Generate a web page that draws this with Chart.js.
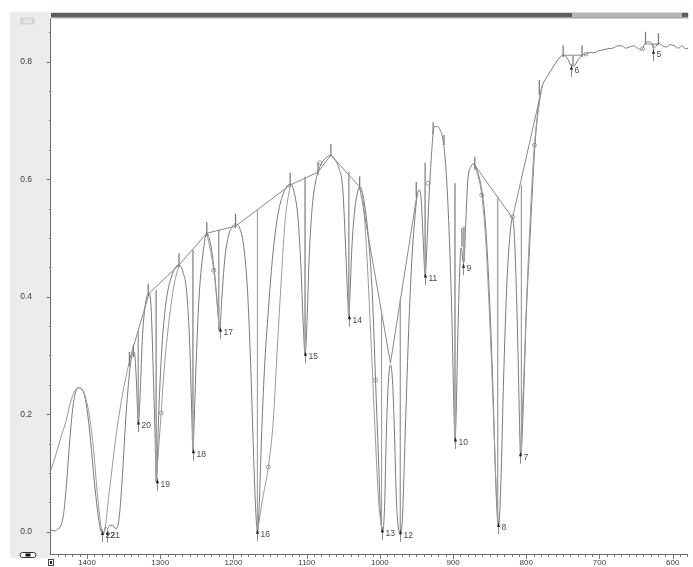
<!DOCTYPE html>
<html><head><meta charset="utf-8">
<script src="https://cdn.jsdelivr.net/npm/chart.js@4.4.0/dist/chart.umd.min.js"></script>
<style>html,body{margin:0;padding:0;background:#fff;}canvas{display:block;}</style>
</head><body>
<canvas id="c" width="693" height="567"></canvas>
<script>
// ---- spectrum (wavenumber cm-1 / absorbance) ----
const specWn = [
1449.2,1443.8,1439.8,1435.7,1431.6,1427.6,1423.5,1419.4,1415.4,1411.3,
1407.2,1403.2,1399.1,1395.0,1391.0,1386.9,1382.8,1380.1,1377.4,1374.7,
1372.0,1369.3,1365.2,1361.1,1358.4,1355.7,1351.6,1347.6,1343.5,1339.4,
1335.4,1332.6,1329.9,1327.2,1324.5,1320.4,1315.0,1312.3,1309.6,1306.9,
1305.5,1304.2,1302.8,1300.1,1296.0,1290.6,1285.2,1279.8,1274.3,1268.9,
1263.5,1259.4,1256.7,1255.4,1254.0,1251.3,1247.2,1241.8,1236.4,1231.0,
1225.5,1221.5,1218.8,1216.0,1212.0,1206.5,1201.1,1197.1,1191.6,1186.2,
1180.8,1176.7,1172.7,1169.9,1167.2,1164.5,1161.8,1157.7,1152.3,1146.9,
1141.5,1136.0,1129.3,1122.5,1117.1,1111.6,1107.6,1104.9,1102.1,1099.4,
1096.7,1092.7,1088.6,1084.5,1079.1,1073.7,1066.9,1061.5,1056.0,1050.6,
1046.6,1043.8,1042.5,1041.1,1038.4,1034.3,1030.3,1027.6,1024.9,1020.8,
1015.4,1009.9,1005.9,1001.8,999.1,996.4,993.7,991.0,988.2,985.5,
982.8,980.1,977.4,974.7,972.0,969.3,965.2,961.1,957.1,953.0,
948.9,946.2,943.5,940.8,938.1,935.4,932.7,929.9,925.9,921.8,
917.7,913.7,909.6,905.5,901.5,898.8,897.4,896.0,893.3,890.6,
889.3,887.9,886.6,885.2,882.5,879.8,875.7,871.6,867.6,862.1,
856.7,851.3,845.9,841.8,839.1,837.7,835.0,831.0,826.9,822.8,
818.8,816.0,812.0,809.3,807.9,806.6,803.8,799.8,795.7,791.6,
787.6,782.2,778.1,772.7,765.9,759.1,753.7,749.6,744.2,738.8,
734.7,729.3,723.8,718.4,713.0,707.6,702.2,695.4,688.6,681.8,
675.0,669.6,664.2,658.8,653.3,647.9,642.5,638.4,634.4,628.9,
626.2,623.5,619.4,614.0,608.6,603.2,597.7,592.3,586.9,582.8,
578.8];
const specAbs = [
0.003,0.001,0.005,0.010,0.034,0.088,0.156,0.211,0.238,0.245,
0.243,0.231,0.200,0.153,0.098,0.049,0.011,-0.001,-0.002,0.008,
0.005,0.010,0.011,0.005,0.008,0.028,0.096,0.182,0.250,0.296,
0.306,0.258,0.185,0.241,0.326,0.386,0.406,0.377,0.275,0.156,
0.085,0.105,0.173,0.258,0.343,0.403,0.432,0.449,0.454,0.442,
0.403,0.309,0.190,0.136,0.173,0.275,0.394,0.471,0.508,0.488,
0.437,0.377,0.343,0.394,0.462,0.505,0.520,0.524,0.517,0.488,
0.411,0.292,0.139,0.045,-0.001,0.054,0.156,0.275,0.377,0.462,
0.522,0.559,0.583,0.592,0.578,0.531,0.445,0.360,0.302,0.360,
0.462,0.548,0.590,0.612,0.628,0.636,0.641,0.633,0.619,0.582,
0.479,0.394,0.364,0.394,0.479,0.548,0.578,0.587,0.582,0.556,
0.497,0.394,0.258,0.122,0.028,0.001,0.037,0.173,0.258,0.284,
0.258,0.173,0.054,0.006,-0.002,0.020,0.173,0.326,0.445,0.522,
0.573,0.582,0.565,0.497,0.435,0.497,0.573,0.633,0.689,0.690,
0.684,0.667,0.616,0.514,0.360,0.207,0.156,0.190,0.343,0.454,
0.483,0.479,0.459,0.459,0.531,0.599,0.621,0.626,0.616,0.590,
0.539,0.428,0.258,0.088,0.017,0.011,0.071,0.258,0.411,0.497,
0.534,0.497,0.343,0.190,0.131,0.139,0.224,0.377,0.479,0.582,
0.667,0.735,0.759,0.772,0.786,0.799,0.808,0.811,0.806,0.794,
0.793,0.803,0.811,0.813,0.816,0.815,0.818,0.820,0.822,0.823,
0.827,0.827,0.823,0.825,0.827,0.823,0.820,0.830,0.834,0.832,
0.823,0.825,0.832,0.827,0.825,0.829,0.827,0.823,0.827,0.822,
0.823];

// ---- fitted band curves (null = break) ----
const fitWn = [
1449.2,1442.5,1435.7,1428.9,1423.5,1418.1,1412.6,1407.2,1401.8,1396.4,1391.0,1386.9,1382.8,1380.1,1377.4,1369.3,1361.1,1352.9,1346.2,1340.8,null,
1305.5,1302.8,1298.7,1294.7,1287.9,1281.1,1274.3,null,
1236.4,1231.0,1226.9,1222.8,1218.8,null,
1167.2,1160.4,1152.3,1145.5,1140.2,1134.7,1129.3,1122.5,null,
1027.6,1023.5,1018.1,1012.7,1007.2,1001.8,997.7,null,
871.6,866.2,860.8,855.4,849.9,844.5,840.4,837.7,null,
807.9,803.8,798.4,793.0,788.9,783.5,778.1];
const fitAbs = [
0.105,0.131,0.161,0.187,0.216,0.236,0.245,0.243,0.228,0.194,0.139,0.079,0.028,0.003,-0.002,0.071,0.156,0.224,0.267,0.296,null,
0.085,0.131,0.202,0.275,0.360,0.420,0.454,null,
0.508,0.476,0.445,0.398,0.343,null,
-0.001,0.054,0.110,0.190,0.309,0.428,0.531,0.590,null,
0.587,0.573,0.479,0.343,0.190,0.054,0.006,null,
0.626,0.607,0.573,0.497,0.360,0.190,0.054,0.011,null,
0.131,0.250,0.428,0.573,0.658,0.718,0.759];

// ---- baseline polyline ----
const baseWn  = [1342.1,1315.0,1274.3,1236.4,1197.1,1122.5,1084.5,1066.9,1027.6,985.5,948.9,null,871.6,818.8,782.2,null,749.6,723.8,null,637.1,619.4];
const baseAbs = [0.292,0.406,0.454,0.508,0.520,0.590,0.612,0.641,0.587,0.287,0.577,null,0.626,0.534,0.735,null,0.811,0.811,null,0.830,0.830];

// ---- peak drop lines ----
const dropWn  = [1329.9,1305.5,1255.4,1220.1,1167.2,1102.1,1042.5,997.7,972.0,938.1,897.4,885.2,839.1,806.6,736.1,626.2];
const dropTop = [0.343,0.411,0.479,0.514,0.548,0.604,0.612,0.374,0.394,0.628,0.593,0.519,0.571,0.590,0.811,0.830];
const dropBot = [0.185,0.085,0.136,0.343,-0.001,0.302,0.364,0.001,-0.002,0.435,0.156,0.459,0.017,0.131,0.792,0.823];

// ---- baseline anchor ticks ----
const anchWn  = [1342.1,1336.7,1316.4,1274.3,1236.4,1197.1,1122.5,1084.5,1066.9,1027.6,950.3,927.2,912.3,887.9,870.3,782.2,749.6,723.8,637.1,619.4];
const anchTop = [0.306,0.318,0.422,0.474,0.527,0.541,0.611,0.629,0.660,0.605,0.595,0.697,0.675,0.517,0.638,0.769,0.828,0.828,0.851,0.849];
const anchBot = [0.282,0.297,0.401,0.450,0.503,0.517,0.587,0.607,0.639,0.583,0.570,0.677,0.658,0.485,0.616,0.743,0.808,0.808,0.830,0.828];

// ---- small open markers ----
const markWn  = [1298.7,1226.9,1152.3,1081.8,1005.9,934.0,860.8,818.8,788.9,718.4,641.1];
const markAbs = [0.202,0.445,0.110,0.628,0.258,0.593,0.573,0.536,0.658,0.813,0.822];

// ---- labelled peaks ----
const peakNum = ['5','6','7','8','9','10','11','12','13','14','15','16','17','18','19','20','21','22'];
const peakWn  = [626.2,738.8,807.9,839.1,886.6,897.4,938.1,972.0,996.4,1042.5,1102.1,1167.2,1218.8,1255.4,1304.2,1329.9,1373.3,1380.1];
const peakAbs = [0.816,0.789,0.131,0.011,0.452,0.156,0.435,-0.002,0.001,0.364,0.302,-0.001,0.343,0.136,0.085,0.185,-0.003,-0.003];

// ---- axes ----
const xTicks = [1400,1300,1200,1100,1000,900,800,700,600];
const yTicks = [0.0,0.2,0.4,0.6,0.8];
const xRange = [578.8,1449.2];
const yRange = [-0.038,0.8735];

function pts(wn, ab){
  const out=[]; let last=wn.find(v=>v!==null);
  for(let i=0;i<wn.length;i++){
    if(wn[i]===null){ out.push({x:last,y:null}); }
    else { last=wn[i]; out.push({x:wn[i],y:ab[i]}); }
  }
  return out;
}
function segs(wn, top, bot){
  const out=[];
  for(let i=0;i<wn.length;i++){
    out.push({x:wn[i],y:top[i]},{x:wn[i],y:bot[i]},{x:wn[i],y:null});
  }
  return out;
}

const FONT = '"Liberation Sans", Arial, sans-serif';

function rr(ctx,x,y,w,h,r){
  ctx.beginPath();
  ctx.moveTo(x+r,y);ctx.lineTo(x+w-r,y);ctx.quadraticCurveTo(x+w,y,x+w,y+r);
  ctx.lineTo(x+w,y+h-r);ctx.quadraticCurveTo(x+w,y+h,x+w-r,y+h);
  ctx.lineTo(x+r,y+h);ctx.quadraticCurveTo(x,y+h,x,y+h-r);
  ctx.lineTo(x,y+r);ctx.quadraticCurveTo(x,y,x+r,y);ctx.closePath();
}

const deco = {
  id:'deco',
  beforeDraw(chart){
    const ctx=chart.ctx; const a=chart.chartArea;
    ctx.save();
    ctx.fillStyle='#ffffff'; ctx.fillRect(0,0,chart.width,chart.height);
    ctx.fillStyle='#ececec'; ctx.fillRect(10,12,a.left-10,546);
    // top-left badge
    rr(ctx,20,17.5,15,7,3); ctx.fillStyle='#d4d4d4'; ctx.fill();
    rr(ctx,23,19,9,4,1.5); ctx.fillStyle='#e4e4e4'; ctx.fill();
    // bottom-left icon
    rr(ctx,20,552.5,16,5,2.5); ctx.fillStyle='#ffffff'; ctx.fill();
    ctx.strokeStyle='#333'; ctx.lineWidth=1; ctx.stroke();
    ctx.fillStyle='#111'; ctx.fillRect(25.5,553.5,5,3);
    // small square icon
    ctx.fillStyle='#fff'; ctx.fillRect(48.5,559.5,5,6);
    ctx.strokeStyle='#444'; ctx.strokeRect(48.5,559.5,5,6);
    ctx.fillStyle='#222'; ctx.fillRect(50,561,2,3);
    ctx.restore();
  },
  afterDatasetsDraw(chart){
    const ctx=chart.ctx; const xs=chart.scales.x, ys=chart.scales.y; const a=chart.chartArea;
    ctx.save();
    ctx.beginPath(); ctx.rect(a.left,a.top,a.right-a.left,a.bottom-a.top); ctx.clip();
    ctx.font='8.5px '+FONT; ctx.textBaseline='middle'; ctx.textAlign='left';
    for(let i=0;i<peakNum.length;i++){
      const px=Math.round(xs.getPixelForValue(peakWn[i]))+0.5, py=ys.getPixelForValue(peakAbs[i]);
      ctx.strokeStyle='#8c8c8c'; ctx.lineWidth=1;
      ctx.beginPath(); ctx.moveTo(px,py-4); ctx.lineTo(px,py+9); ctx.stroke();
      ctx.fillStyle='#222';
      ctx.beginPath(); ctx.moveTo(px,py-2.5); ctx.lineTo(px-1.6,py+1.5); ctx.lineTo(px+1.6,py+1.5); ctx.closePath(); ctx.fill();
      ctx.fillStyle='#4a4a4a';
      ctx.fillText(peakNum[i], px+3, py+2.5);
    }
    ctx.restore();
  },
  afterDraw(chart){
    const ctx=chart.ctx; const a=chart.chartArea; const xs=chart.scales.x, ys=chart.scales.y;
    ctx.save();
    const w=a.right-a.left;
    // top scroll bar
    ctx.fillStyle='#efc6e2'; ctx.fillRect(a.left,12,w,1);
    ctx.fillStyle='#5d5d5d'; ctx.fillRect(a.left,13,w,4);
    ctx.fillStyle='#b7b7b7'; ctx.fillRect(572,13,110,4);
    ctx.fillStyle='#a4a4a4'; ctx.fillRect(a.left,17,w,1.5);
    // axis lines
    ctx.strokeStyle='#6b6b6b'; ctx.lineWidth=1;
    ctx.beginPath(); ctx.moveTo(a.left-0.5,a.top); ctx.lineTo(a.left-0.5,a.bottom+1); ctx.stroke();
    ctx.beginPath(); ctx.moveTo(a.left-1,a.bottom+0.5); ctx.lineTo(a.right,a.bottom+0.5); ctx.stroke();
    // y ticks (major 0.2, minor 0.05)
    ctx.strokeStyle='#777';
    for(let k=0;k<=17;k++){
      const v=k*0.05; const py=Math.round(ys.getPixelForValue(v))+0.5;
      const major=(k%4===0);
      ctx.beginPath(); ctx.moveTo(a.left-(major?4.5:2),py); ctx.lineTo(a.left,py); ctx.stroke();
    }
    // x ticks (major 100, minor 10)
    for(let wv=580; wv<=1440; wv+=10){
      const px=Math.round(xs.getPixelForValue(wv))+0.5;
      const major=(wv%100===0);
      ctx.beginPath(); ctx.moveTo(px,a.bottom+1); ctx.lineTo(px,a.bottom+(major?5:3)); ctx.stroke();
    }
    ctx.restore();
  }
};

const grey = '#7a7a7a';
new Chart(document.getElementById('c'), {
  type:'scatter',
  data:{ datasets:[
    { label:'drop', data:segs(dropWn,dropTop,dropBot), showLine:true, borderColor:'#a2a2a2', borderWidth:1, pointRadius:0, spanGaps:false, tension:0 },
    { label:'anchor', data:segs(anchWn,anchTop,anchBot), showLine:true, borderColor:'#7d7d7d', borderWidth:1.3, pointRadius:0, spanGaps:false, tension:0 },
    { label:'baseline', data:pts(baseWn,baseAbs), showLine:true, borderColor:'#8a8a8a', borderWidth:1, pointRadius:0, spanGaps:false, tension:0 },
    { label:'fit', data:pts(fitWn,fitAbs), showLine:true, borderColor:'#9a9a9a', borderWidth:1, pointRadius:0, spanGaps:false, cubicInterpolationMode:'monotone' },
    { label:'spectrum', data:pts(specWn,specAbs), showLine:true, borderColor:grey, borderWidth:1, pointRadius:0, spanGaps:false, cubicInterpolationMode:'monotone' },
    { label:'marks', data:pts(markWn,markAbs), showLine:false, pointRadius:2, pointBorderWidth:0.8, pointBorderColor:'#888', pointBackgroundColor:'#fff' }
  ]},
  plugins:[deco],
  options:{
    responsive:false, animation:false, events:[],
    layout:{ padding:{ left:10, top:18.5, right:0, bottom:0 } },
    plugins:{ legend:{display:false}, tooltip:{enabled:false} },
    scales:{
      x:{ type:'linear', reverse:true, min:xRange[0], max:xRange[1],
          afterFit:(s)=>{ s.height=13; s.paddingLeft=0; s.paddingRight=0; s.paddingTop=0; s.paddingBottom=0; },
          grid:{ display:false, drawTicks:false }, border:{ display:false },
          afterBuildTicks:(s)=>{ s.ticks = xTicks.map(v=>({value:v})); },
          ticks:{ padding:4, maxRotation:0, autoSkip:false, color:'#3c3c3c', font:{ size:8, family:FONT }, callback:(v)=>String(Math.round(v)) } },
      y:{ type:'linear', min:yRange[0], max:yRange[1],
          afterFit:(s)=>{ s.width=41; s.paddingTop=0; s.paddingBottom=0; s.paddingLeft=0; s.paddingRight=0; },
          grid:{ display:false, drawTicks:false }, border:{ display:false },
          afterBuildTicks:(s)=>{ s.ticks = yTicks.map(v=>({value:v})); },
          ticks:{ padding:19, autoSkip:false, color:'#3c3c3c', font:{ size:8.5, family:FONT }, callback:(v)=>Number(v).toFixed(1) } }
    }
  }
});
</script>
</body></html>
